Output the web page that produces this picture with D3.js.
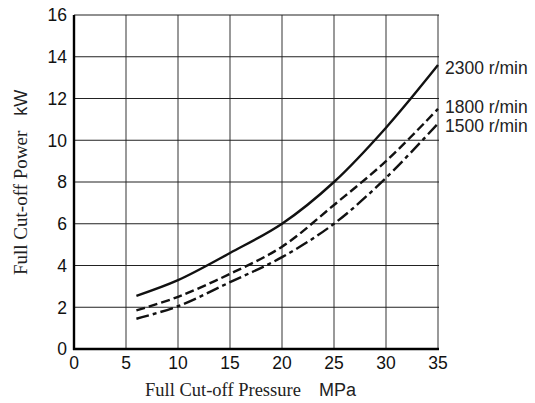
<!DOCTYPE html>
<html>
<head>
<meta charset="utf-8">
<script src="https://cdn.jsdelivr.net/npm/d3@7"></script>
<style>
  html, body { margin: 0; padding: 0; background: #fff; }
  svg { display: block; }
  .tick-label { font-family: "Liberation Sans", Arial, sans-serif; font-size: 17.5px; fill: #111; }
  .serif { font-family: "Liberation Serif", "Times New Roman", serif; font-size: 19px; fill: #222; }
  .sans { font-family: "Liberation Sans", Arial, sans-serif; font-size: 18px; fill: #222; }
</style>
</head>
<body>
<svg id="chart" width="535" height="403"></svg>
<script>
// values
const pressure = [6, 10, 15, 20, 25, 30, 35];
const power2300 = [2.55, 3.3, 4.6, 6.0, 8.0, 10.6, 13.6];
const power1800 = [1.85, 2.5, 3.6, 4.9, 6.9, 9.0, 11.5];
const power1500 = [1.45, 2.05, 3.2, 4.4, 6.0, 8.2, 10.8];
const seriesNames = ['2300 r/min', '1800 r/min', '1500 r/min'];
const xTicks = [0, 5, 10, 15, 20, 25, 30, 35];
const yTicks = [0, 2, 4, 6, 8, 10, 12, 14, 16];

const margin = { left: 74, right: 97, top: 15, bottom: 54 };
const width = 535, height = 403;

const svg = d3.select('#chart');

const x = d3.scaleLinear().domain([0, 35]).range([margin.left, width - margin.right]);
const y = d3.scaleLinear().domain([0, 16]).range([height - margin.bottom, margin.top]);

// grid
const grid = svg.append('g');
grid.selectAll('line.v')
    .data(xTicks.filter(d => d > 0))
    .enter().append('line')
    .attr('x1', d => x(d)).attr('x2', d => x(d))
    .attr('y1', y(0)).attr('y2', y(16))
    .attr('stroke', '#555').attr('stroke-width', 1.2);
grid.selectAll('line.h')
    .data(yTicks.filter(d => d > 0))
    .enter().append('line')
    .attr('x1', x(0)).attr('x2', x(35) + 1)
    .attr('y1', d => y(d)).attr('y2', d => y(d))
    .attr('stroke', '#222').attr('stroke-width', 1.1);

// axes (thick left and bottom)
svg.append('line')
    .attr('x1', x(0)).attr('x2', x(0))
    .attr('y1', y(0) + 1).attr('y2', y(16))
    .attr('stroke', '#000').attr('stroke-width', 2.4);
svg.append('line')
    .attr('x1', x(0) - 1).attr('x2', x(35) + 1)
    .attr('y1', y(0)).attr('y2', y(0))
    .attr('stroke', '#000').attr('stroke-width', 2.4);

// tick labels
svg.append('g').selectAll('text')
    .data(yTicks)
    .enter().append('text')
    .attr('class', 'tick-label')
    .attr('x', x(0) - 7)
    .attr('y', d => y(d))
    .attr('dy', '0.36em')
    .attr('text-anchor', 'end')
    .text(d => d);
svg.append('g').selectAll('text')
    .data(xTicks)
    .enter().append('text')
    .attr('class', 'tick-label')
    .attr('x', d => x(d))
    .attr('y', y(0) + 20)
    .attr('text-anchor', 'middle')
    .text(d => d);

// curves
const line = d3.line()
    .x(d => x(d[0]))
    .y(d => y(d[1]))
    .curve(d3.curveCatmullRom.alpha(0.5));

const series = [
    { name: seriesNames[0], values: power2300, dash: null, labelDy: 3 },
    { name: seriesNames[1], values: power1800, dash: '9,4', labelDy: -2 },
    { name: seriesNames[2], values: power1500, dash: '13,4,4,4', labelDy: 2 }
];

svg.append('g').attr('fill', 'none')
    .selectAll('path')
    .data(series)
    .enter().append('path')
    .attr('d', d => line(pressure.map((p, i) => [p, d.values[i]])))
    .attr('stroke', '#111')
    .attr('stroke-width', 2.4)
    .attr('stroke-dasharray', d => d.dash);

// series labels
svg.append('g').selectAll('text')
    .data(series)
    .enter().append('text')
    .attr('class', 'sans')
    .style('font-size', '17.5px')
    .attr('x', x(35) + 7)
    .attr('y', d => y(d.values[d.values.length - 1]) + d.labelDy)
    .attr('dy', '0.35em')
    .text(d => d.name);

// axis titles
const xt = svg.append('text')
    .attr('x', 145).attr('y', 396);
xt.append('tspan').attr('class', 'serif').style('font-size', '18.5px').text('Full Cut-off Pressure');
xt.append('tspan').attr('class', 'sans').attr('dx', 18).text('MPa');

const yt = svg.append('text')
    .attr('transform', 'translate(27,275) rotate(-90)');
yt.append('tspan').attr('class', 'serif').text('Full Cut-off Power');
yt.append('tspan').attr('class', 'sans').attr('dx', 15).text('kW');
</script>
</body>
</html>
